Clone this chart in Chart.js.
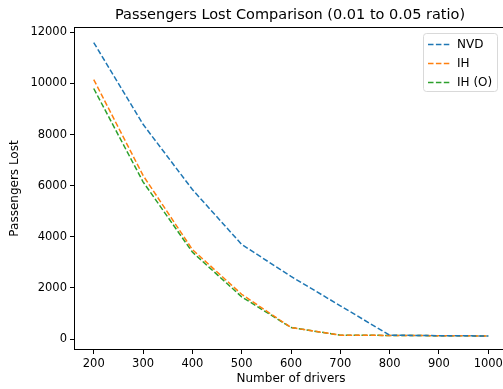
<!DOCTYPE html>
<html>
<head>
<meta charset="utf-8">
<script src="https://cdn.jsdelivr.net/npm/chart.js@4"></script>
<style>
  html, body { margin: 0; padding: 0; overflow: hidden; background: #fff; }
</style>
</head>
<body>
<canvas id="chart" width="510" height="389"></canvas>
<script>
const drivers = [200, 300, 400, 500, 600, 700, 800, 900, 1000];
const nvd = [11600, 8400, 5850, 3700, 2450, 1300, 150, 130, 120];
const ih = [10150, 6400, 3500, 1750, 450, 150, 140, 130, 120];
const ihO = [9800, 6150, 3400, 1650, 450, 150, 140, 130, 120];
const yTicks = [0, 2000, 4000, 6000, 8000, 10000, 12000];
const seriesNames = ["NVD", "IH", "IH (O)"];
const seriesColors = ["#1f77b4", "#ff7f0e", "#2ca02c"];

const FONT = "'DejaVu Sans', sans-serif";

function toPoints(values) {
  return drivers.map((d, i) => ({ x: d, y: values[i] }));
}

// title, frame and the legend box drawn inside the plot, like matplotlib
const mplBits = {
  id: "mplBits",
  afterDraw(chart) {
    const c = chart.ctx;
    const a = chart.chartArea;
    c.save();
    c.strokeStyle = "#000";
    c.lineWidth = 1;
    c.strokeRect(a.left + 0.5, a.top + 0.5, a.right - a.left - 1, a.bottom - a.top - 1);

    c.fillStyle = "#000";
    c.font = "14.5px " + FONT;
    c.textAlign = "center";
    c.textBaseline = "alphabetic";
    c.fillText("Passengers Lost Comparison (0.01 to 0.05 ratio)", 290, 19);

    const bx = 423, by = 33, bw = 74, bh = 58;
    c.fillStyle = "rgba(255,255,255,0.8)";
    c.strokeStyle = "#d9d9d9";
    c.beginPath();
    c.roundRect(bx + 0.5, by + 0.5, bw, bh, 3);
    c.fill();
    c.stroke();
    c.font = "12px " + FONT;
    c.textAlign = "left";
    c.textBaseline = "middle";
    chart.data.datasets.forEach((ds, i) => {
      const y = by + 11.5 + i * 19;
      c.strokeStyle = ds.borderColor;
      c.lineWidth = 1.5;
      c.setLineDash([5.5, 2.4]);
      c.beginPath();
      c.moveTo(bx + 5, y);
      c.lineTo(bx + 28, y);
      c.stroke();
      c.setLineDash([]);
      c.fillStyle = "#000";
      c.fillText(ds.label, bx + 34, y);
    });
    c.restore();
  }
};

new Chart(document.getElementById("chart"), {
  type: "line",
  data: {
    datasets: [nvd, ih, ihO].map((vals, i) => ({
      label: seriesNames[i],
      data: toPoints(vals),
      borderColor: seriesColors[i],
      backgroundColor: seriesColors[i],
      borderWidth: 1.5,
      borderDash: [5.5, 2.4],
      pointRadius: 0,
      tension: 0,
      fill: false
    }))
  },
  options: {
    responsive: false,
    animation: false,
    layout: { padding: { top: 27, right: 2, left: 0, bottom: 0 } },
    plugins: {
      legend: { display: false },
      title: { display: false },
      tooltip: { enabled: false }
    },
    scales: {
      x: {
        type: "linear",
        min: 160,
        max: 1040,
        afterFit: s => { s.height = 39; },
        afterBuildTicks: s => { s.ticks = drivers.map(v => ({ value: v })); },
        grid: { drawOnChartArea: false, drawTicks: true, tickLength: 4, color: "#000" },
        border: { display: false },
        ticks: { color: "#000", font: { family: FONT, size: 11.5 }, padding: 3, maxRotation: 0, callback: v => String(v) },
        title: { display: true, text: "Number of drivers", color: "#000", font: { family: FONT, size: 12 }, padding: { top: 0, bottom: 3 } }
      },
      y: {
        min: -430,
        max: 12207,
        afterFit: s => { s.width = 74; },
        afterBuildTicks: s => { s.ticks = yTicks.map(v => ({ value: v })); },
        grid: { drawOnChartArea: false, drawTicks: true, tickLength: 4, color: "#000" },
        border: { display: false },
        ticks: { color: "#000", font: { family: FONT, size: 11.5 }, padding: 3, callback: v => String(v) },
        title: { display: true, text: "Passengers Lost", color: "#000", font: { family: FONT, size: 12 }, padding: { top: 8, bottom: 4 } }
      }
    }
  },
  plugins: [mplBits]
});
</script>
</body>
</html>
